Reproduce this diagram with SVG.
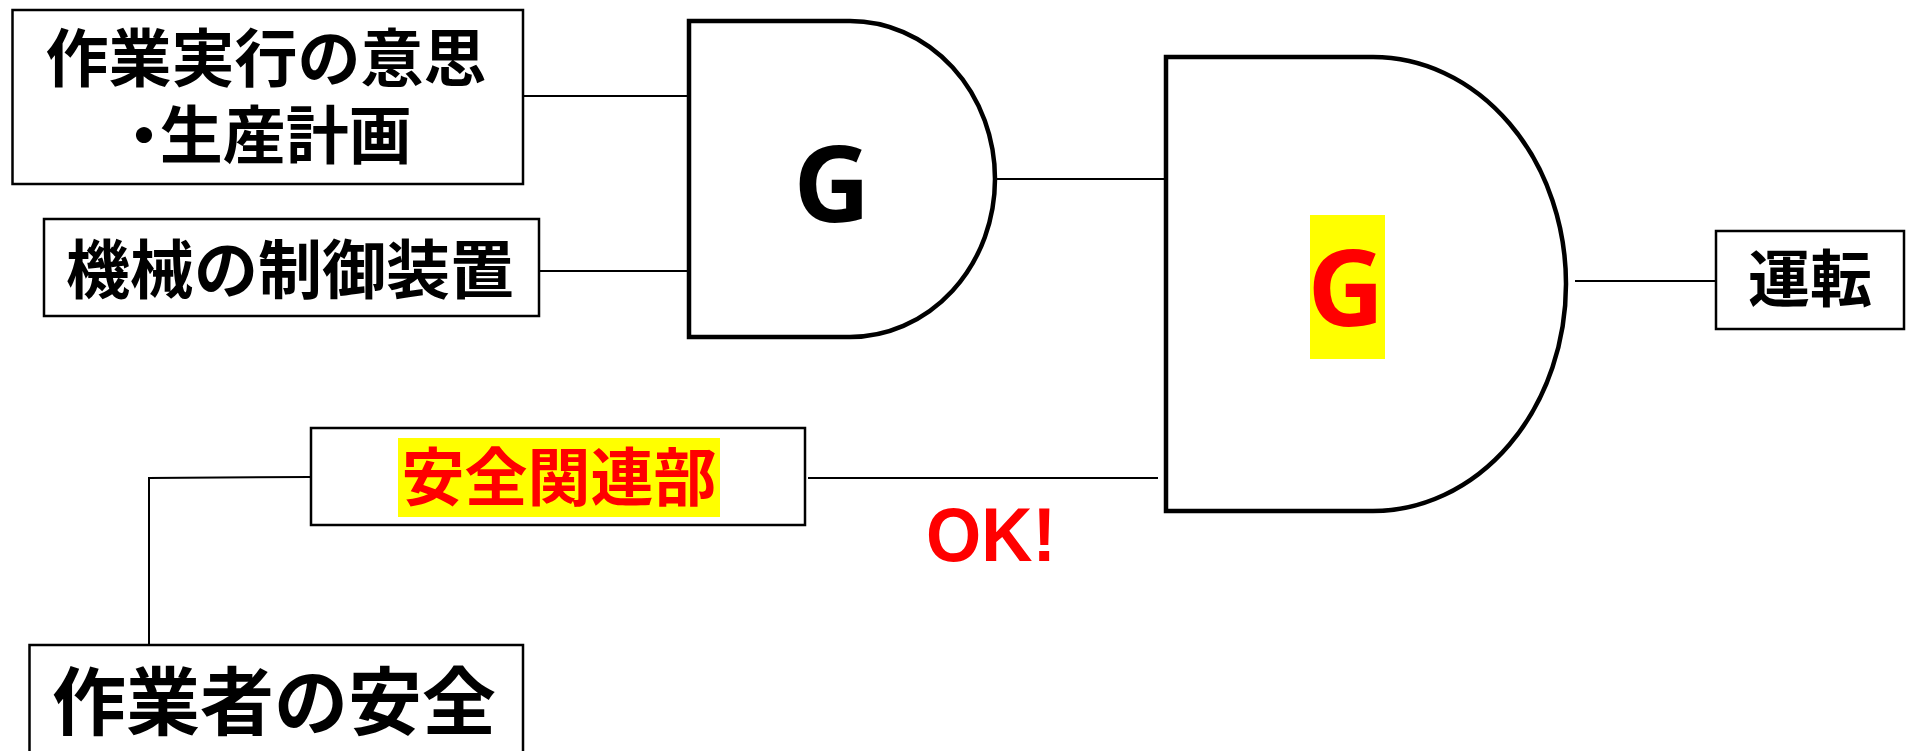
<svg xmlns="http://www.w3.org/2000/svg" width="1908" height="751" viewBox="0 0 1908 751">
<style>
.box{fill:#fff;stroke:#000;stroke-width:2.5}
.gate{fill:#fff;stroke:#000;stroke-width:4.5;stroke-linejoin:miter}
.wire{fill:none;stroke:#000;stroke-width:2}
.jp{font-family:"Noto Sans CJK JP","Noto Sans CJK SC",sans-serif;font-weight:700;text-anchor:middle}
.g{font-family:"Open Sans","Liberation Sans",sans-serif;font-weight:700;font-size:106px;text-anchor:middle}
</style>
<rect width="1908" height="751" fill="#fff"/>
<g id="connectors">
<line class="wire" x1="523" y1="96" x2="688" y2="96"/>
<line class="wire" x1="539" y1="271" x2="688" y2="271" stroke-width="2.5"/>
<line class="wire" x1="997" y1="179" x2="1165" y2="179"/>
<line class="wire" x1="1575" y1="281" x2="1716" y2="281"/>
<line class="wire" x1="808" y1="478" x2="1158" y2="478"/>
<polyline class="wire" points="311,477 149,478 149,645" stroke-width="1.5"/>
</g>
<g id="node-intent">
<rect class="box" x="12.5" y="10" width="510.5" height="174"/>
<text class="jp" font-size="63"><tspan x="266" y="81">作業実行の意思</tspan><tspan x="270" y="158" style="font-feature-settings:'halt'">・生産計画</tspan></text>
</g>
<g id="node-control">
<rect class="box" x="44" y="219" width="495" height="97"/>
<text class="jp" x="290" y="293" font-size="64">機械の制御装置</text>
</g>
<g id="gate1">
<path class="gate" d="M689,21 H850 A145,158 0 0 1 850,337 H689 Z"/>
<text class="g" x="832" y="222" fill="#000">G</text>
</g>
<g id="gate2">
<path class="gate" d="M1166,57 H1373 A193,227 0 0 1 1373,511 H1166 Z"/>
<rect x="1310" y="215" width="75" height="144" fill="#ff0"/>
<text class="g" x="1346" y="326" fill="#f00">G</text>
</g>
<g id="node-run">
<rect class="box" x="1716" y="231" width="188" height="98"/>
<text class="jp" x="1810" y="302" font-size="62">運転</text>
</g>
<g id="node-safety-part">
<rect class="box" x="311" y="428" width="494" height="97"/>
<rect x="398" y="438" width="322" height="79" fill="#ff0"/>
<text class="jp" x="559" y="500" font-size="63" fill="#f00">安全関連部</text>
</g>
<g id="node-worker">
<rect class="box" x="29.5" y="645" width="493.5" height="130"/>
<text class="jp" x="274" y="729" font-size="74">作業者の安全</text>
</g>
<g id="label-ok">
<text x="926" y="561" font-family="Liberation Sans, Arial, sans-serif" font-weight="700" font-size="76" fill="#f00" textLength="130" lengthAdjust="spacingAndGlyphs">OK!</text>
</g>
</svg>
